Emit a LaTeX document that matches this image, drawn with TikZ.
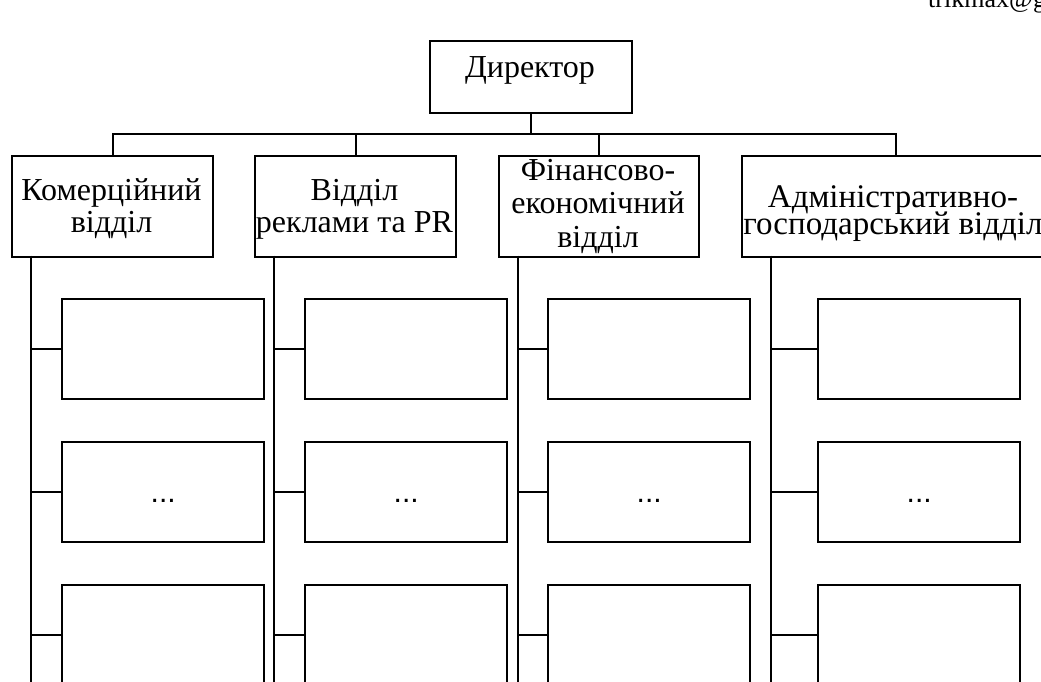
\documentclass[tikz,border=0pt]{standalone}
\usepackage{fontspec}
\usepackage{graphicx}
\setmainfont{Liberation Serif}
\newfontfamily\dotfont{Liberation Sans}
\newcommand\mlines[2]{\vtop{\baselineskip=#1\lineskiplimit=-1000pt\lineskip=0pt\halign{\hfil##\hfil\cr#2\crcr}}}
\begin{document}
\begin{tikzpicture}[x=1pt,y=-1pt,
  box/.style={draw=black, line width=2.4pt, rectangle, inner sep=0pt, anchor=north west},
  lbl/.style={anchor=base, inner sep=0pt, font=\fontsize{32}{33}\selectfont},
  widelbl/.style={anchor=base, inner sep=0pt, font=\fontsize{33}{27}\selectfont},
  dotlbl/.style={anchor=base, inner sep=0pt, font=\dotfont\fontsize{30}{32}\selectfont},
  conn/.style={draw=black, line width=2.4pt}]
\useasboundingbox (0,0) rectangle (1041,681);
\clip (0,0) rectangle (1041,681);
% director
\node[box, minimum width=202pt, minimum height=72pt] (dir) at (429,40) {};
\node[lbl] (tdir) at (530,77) {Директор};
% departments
\node[box, minimum width=201pt, minimum height=101pt] (d1) at (11,154.5) {};
\node[box, minimum width=201pt, minimum height=101pt] (d2) at (254,154.5) {};
\node[box, minimum width=200pt, minimum height=101pt] (d3) at (498,154.5) {};
\node[box, minimum width=308pt, minimum height=101pt] (d4) at (741,154.5) {};
\node[lbl] (t1) at (111.5,200) {\mlines{32pt}{Комерційний\cr відділ}};
\node[lbl] (t2) at (354.5,200) {\mlines{32pt}{Відділ\cr реклами та PR}};
\node[lbl] (t3) at (598,180) {\mlines{33.5pt}{Фінансово-\cr економічний\cr відділ}};
\node[widelbl] (t4) at (893,207) {\mlines{27pt}{Адміністративно-\cr господарський відділ}};
% bus
\coordinate (bus) at (0,134);
\draw[conn] (dir.south) -- (dir.south |- bus);
\draw[conn] (d1.north) -- (d1.north |- bus) -- (d4.north |- bus) -- (d4.north);
\draw[conn] (d2.north) -- (d2.north |- bus);
\draw[conn] (d3.north) -- (d3.north |- bus);
% spines and sub-boxes
\foreach \i/\sx/\bx in {1/31/61, 2/274/304, 3/518/547, 4/771/817} {
  \coordinate (sp\i) at (\sx,255.5);
  \coordinate (se\i) at (\sx,700);
  \draw[conn] (sp\i) -- (se\i);
  \foreach \j/\ty in {1/298, 2/441, 3/584} {
    \node[box, minimum width=202pt, minimum height=100pt] (s\i\j) at (\bx,\ty) {};
    \draw[conn] (sp\i |- s\i\j.west) -- (s\i\j.west);
  }
  \node[dotlbl] (dots\i) at ([yshift=-10pt]s\i2.center) {...};
}
% partially visible text at top right
\node[anchor=base west, inner sep=0pt, font=\fontsize{26}{28}\selectfont] (mail) at (928,7) {trikmax@g};
\end{tikzpicture}
\end{document}
